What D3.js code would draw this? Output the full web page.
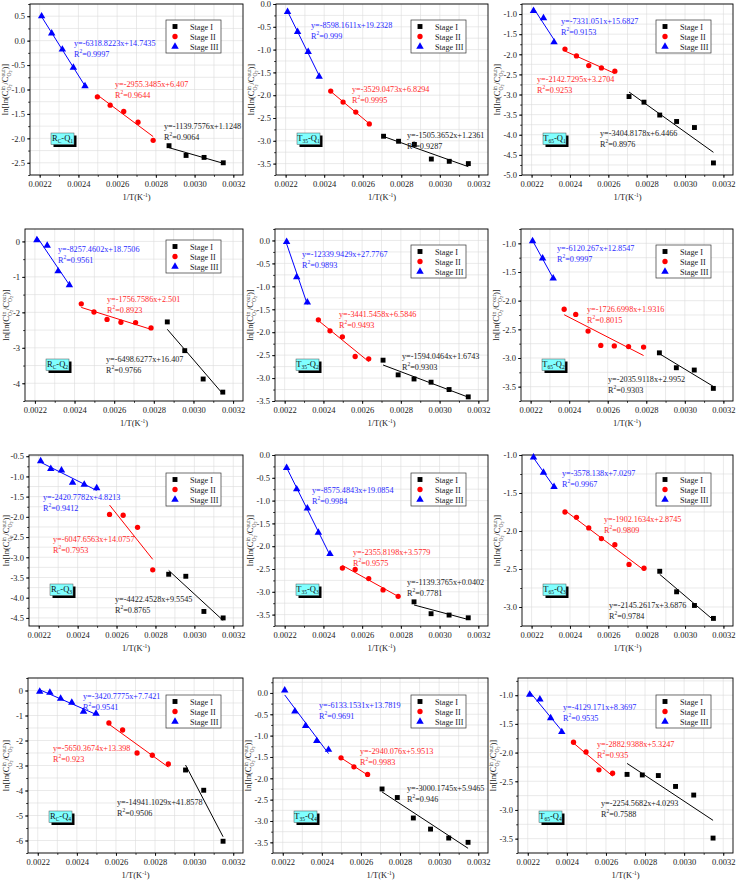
<!DOCTYPE html>
<html>
<head>
<meta charset="utf-8">
<script src="https://cdn.jsdelivr.net/npm/d3@7"></script>
<style>
body { margin: 0; background: #fff; }
text { font-family: "Liberation Serif", "Times New Roman", serif; }
</style>
</head>
<body>
<svg id="chart" width="738" height="881"></svg>
<script>
// 1/T (K^-1) as placed on the x axis of the picture
var invT = [0.002210, 0.002262, 0.002317, 0.002374, 0.002434, 0.002498, 0.002564,
    0.002634, 0.002708, 0.002786, 0.002868, 0.002956, 0.003049, 0.003148];

// ln[ln(Cin/Cout)] in invT order, split = number of points in stage I, II, III
// fit = [slope, intercept, R2] for stage I, II, III
var rcQ1 = [0.50, 0.15, -0.18, -0.55, -0.93, -1.15, -1.32, -1.45, -1.67, -2.04, -2.15, -2.35, -2.39, -2.50];
var rcQ1Split = [4, 5, 5];
var rcQ1Fit = [[-1139.7576, 1.1248, 0.9064], [-2955.3485, 6.407, 0.9644], [-6318.8223, 14.7435, 0.9997]];

var t35Q1 = [-0.17, -0.61, -1.05, -1.59, -1.91, -2.15, -2.37, -2.63, -2.90, -3.01, -3.08, -3.40, -3.45, -3.50];
var t35Q1Split = [6, 4, 4];
var t35Q1Fit = [[-1505.3652, 1.2361, 0.9287], [-3529.0473, 6.8294, 0.9995], [-8598.1611, 19.2328, 0.999]];

var t65Q1 = [-0.92, -1.10, -1.70, -1.87, -2.04, -2.28, -2.34, -2.42, -3.05, -3.19, -3.51, -3.67, -3.82, -4.70];
var t65Q1Split = [6, 5, 3];
var t65Q1Fit = [[-3404.8178, 6.4466, 0.8976], [-2142.7295, 3.2704, 0.9253], [-7331.051, 15.6827, 0.9153]];

var rcQ2 = [0.04, -0.12, -0.84, -1.23, -1.76, -1.99, -2.20, -2.28, -2.29, -2.44, -2.27, -3.08, -3.88, -4.25];
var rcQ2Split = [4, 6, 4];
var rcQ2Fit = [[-6498.6277, 16.407, 0.9766], [-1756.7586, 2.501, 0.8923], [-8257.4602, 18.7506, 0.9561]];

var t35Q2 = [-0.03, -0.80, -1.35, -1.73, -1.97, -2.10, -2.53, -2.58, -2.61, -2.93, -3.02, -3.09, -3.25, -3.41];
var t35Q2Split = [6, 5, 3];
var t35Q2Fit = [[-1594.0464, 1.6743, 0.9303], [-3441.5458, 6.5846, 0.9493], [-12339.9429, 27.7767, 0.9893]];

var t65Q2 = [-0.96, -1.26, -1.61, -2.15, -2.24, -2.53, -2.78, -2.79, -2.80, -2.81, -2.91, -3.17, -3.21, -3.53];
var t65Q2Split = [4, 7, 3];
var t65Q2Fit = [[-2035.9118, 2.9952, 0.9303], [-1726.6998, 1.9316, 0.8015], [-6120.267, 12.8547, 0.9997]];

var rcQ3 = [-0.62, -0.81, -0.85, -1.15, -1.20, -1.29, -1.94, -1.96, -2.26, -3.31, -3.42, -3.47, -4.34, -4.50];
var rcQ3Split = [4, 4, 6];
var rcQ3Fit = [[-4422.4528, 9.5545, 0.8765], [-6047.6563, 14.0757, 0.7953], [-2420.7782, 4.8213, 0.9412]];

var t35Q3 = [-0.28, -0.75, -1.17, -1.70, -2.17, -2.48, -2.51, -2.71, -2.96, -3.10, -3.22, -3.48, -3.51, -3.57];
var t35Q3Split = [4, 5, 5];
var t35Q3Fit = [[-1139.3765, 0.0402, 0.7781], [-2355.8198, 3.5779, 0.9575], [-8575.4843, 19.0854, 0.9984]];

var t65Q3 = [-1.03, -1.23, -1.42, -1.75, -1.82, -1.96, -2.10, -2.18, -2.44, -2.49, -2.53, -2.80, -2.98, -3.15];
var t65Q3Split = [4, 7, 3];
var t65Q3Fit = [[-2145.2617, 3.6876, 0.9784], [-1902.1634, 2.8745, 0.9809], [-3578.138, 7.0297, 0.9967]];

var rcQ4 = [-0.04, -0.08, -0.32, -0.48, -0.84, -0.92, -1.30, -1.58, -2.50, -2.59, -2.94, -3.18, -3.99, -6.03];
var rcQ4Split = [3, 5, 6];
var rcQ4Fit = [[-14941.1029, 41.8578, 0.9506], [-5650.3674, 13.398, 0.923], [-3420.7775, 7.7421, 0.9541]];

var t35Q4 = [0.06, -0.43, -0.77, -1.12, -1.33, -1.52, -1.73, -1.91, -2.25, -2.45, -2.93, -3.19, -3.40, -3.50];
var t35Q4Split = [6, 3, 5];
var t35Q4Fit = [[-3000.1745, 5.9465, 0.946], [-2940.076, 5.9513, 0.9983], [-6133.1531, 13.7819, 0.9691]];

var t65Q4 = [-0.99, -1.07, -1.40, -1.64, -1.82, -1.99, -2.30, -2.36, -2.38, -2.39, -2.40, -2.59, -2.74, -3.49];
var t65Q4Split = [6, 4, 4];
var t65Q4Fit = [[-2254.5682, 4.0293, 0.7588], [-2882.9388, 5.3247, 0.935], [-4129.171, 8.3697, 0.9535]];

var stageNames = ["Stage I", "Stage II", "Stage III"];
var stageColors = ["#000000", "#ff0000", "#0000ff"];
var eqColors = ["#222222", "#ff2a2a", "#2a2aff"];
var xTicks = [0.0022, 0.0024, 0.0026, 0.0028, 0.0030, 0.0032];

// panel layout (pixels), eq = [x, y] of the equation per stage I, II, III
var panels = [
    {lab: ["R", "C", "-Q", "1"], y: rcQ1, split: rcQ1Split, fit: rcQ1Fit, l: 30, r: 243, t: 4, b: 175,
        dom: [-2.75, 0.75], step: 0.5, dec: 1, eq: [[164, 126], [115, 84], [74, 43]], lg: 16},
    {lab: ["T", "35", "-Q", "1"], y: t35Q1, split: t35Q1Split, fit: t35Q1Fit, l: 276, r: 488, t: 4, b: 175,
        dom: [-3.75, 0], step: 0.5, dec: 1, eq: [[407, 135], [352, 89], [311, 25]], lg: 16},
    {lab: ["T", "65", "-Q", "1"], y: t65Q1, split: t65Q1Split, fit: t65Q1Fit, l: 522, r: 733, t: 4, b: 175,
        dom: [-5, -0.75], step: 0.5, dec: 1, eq: [[600, 133], [537, 79], [561, 21]], lg: 16},
    {lab: ["R", "C", "-Q", "2"], y: rcQ2, split: rcQ2Split, fit: rcQ2Fit, l: 25, r: 243, t: 229, b: 401,
        dom: [-4.5, 0.35], step: 1, dec: 0, eq: [[106, 359], [107, 299], [58, 249]], lg: 11},
    {lab: ["T", "35", "-Q", "2"], y: t35Q2, split: t35Q2Split, fit: t35Q2Fit, l: 275, r: 488, t: 229, b: 401,
        dom: [-3.5, 0.25], step: 0.5, dec: 1, eq: [[402, 356], [339, 314], [302, 254]], lg: 16},
    {lab: ["T", "65", "-Q", "2"], y: t65Q2, split: t65Q2Split, fit: t65Q2Fit, l: 521, r: 733, t: 229, b: 401,
        dom: [-3.75, -0.75], step: 0.5, dec: 1, eq: [[608, 379], [587, 309], [557, 248]], lg: 16},
    {lab: ["R", "C", "-Q", "3"], y: rcQ3, split: rcQ3Split, fit: rcQ3Fit, l: 29, r: 243, t: 455, b: 626,
        dom: [-4.7, -0.47], step: 0.5, dec: 1, eq: [[115, 599], [53, 539], [43, 497]], lg: 18},
    {lab: ["T", "35", "-Q", "3"], y: t35Q3, split: t35Q3Split, fit: t35Q3Fit, l: 275, r: 488, t: 455, b: 626,
        dom: [-3.75, 0], step: 0.5, dec: 1, eq: [[407, 582], [353, 552], [312, 490]], lg: 18},
    {lab: ["T", "65", "-Q", "3"], y: t65Q3, split: t65Q3Split, fit: t65Q3Fit, l: 522, r: 733, t: 455, b: 626,
        dom: [-3.25, -1], step: 0.5, dec: 1, eq: [[609, 605], [604, 519], [562, 473]], lg: 18},
    {lab: ["R", "C", "-Q", "4"], y: rcQ4, split: rcQ4Split, fit: rcQ4Fit, l: 28, r: 243, t: 678, b: 853,
        dom: [-6.5, 0.5], step: 1, dec: 0, eq: [[117, 802], [53, 748], [83, 696]], lg: 17},
    {lab: ["T", "35", "-Q", "4"], y: t35Q4, split: t35Q4Split, fit: t35Q4Fit, l: 273, r: 488, t: 678, b: 853,
        dom: [-3.75, 0.35], step: 0.5, dec: 1, eq: [[407, 788], [360, 751], [319, 705]], lg: 17},
    {lab: ["T", "65", "-Q", "4"], y: t65Q4, split: t65Q4Split, fit: t65Q4Fit, l: 518, r: 733, t: 678, b: 853,
        dom: [-3.75, -0.7], step: 0.5, dec: 1, eq: [[601, 803], [597, 744], [563, 707]], lg: 17}
];

var svg = d3.select("#chart");
svg.append("rect").attr("width", 738).attr("height", 881).attr("fill", "#fff");

panels.forEach(drawPanel);

function stepTicks(dom, step) {
    var k0 = Math.ceil(dom[0] / step - 1e-9), k1 = Math.floor(dom[1] / step + 1e-9);
    return d3.range(k0, k1 + 1).map(function (k) { return +(k * step).toFixed(6); });
}

function symbolFor(i) {
    var types = [d3.symbolSquare, d3.symbolCircle, d3.symbolTriangle];
    var sizes = [24, 22, 24];
    return d3.symbol().type(types[i]).size(sizes[i]);
}

function drawPanel(p) {
    var x = d3.scaleLinear().domain([0.00215, 0.00325]).range([p.l, p.r]);
    var y = d3.scaleLinear().domain(p.dom).range([p.b, p.t]);
    var g = svg.append("g");

    var xMinor = stepTicks([0.00215, 0.00325], 0.0001);
    var yMajor = stepTicks(p.dom, p.step);
    var yMinor = stepTicks(p.dom, p.step / 2);

    // grid
    g.append("g").selectAll("line").data(xMinor).join("line")
        .attr("x1", function (d) { return x(d); }).attr("x2", function (d) { return x(d); })
        .attr("y1", p.t).attr("y2", p.b)
        .attr("stroke", "#dcdcdc").attr("stroke-width", 0.6);
    g.append("g").selectAll("line").data(yMinor).join("line")
        .attr("y1", function (d) { return y(d); }).attr("y2", function (d) { return y(d); })
        .attr("x1", p.l).attr("x2", p.r)
        .attr("stroke", "#dcdcdc").attr("stroke-width", 0.6);

    // axes
    var xAxis = d3.axisBottom(x).tickValues(xTicks).tickFormat(function (d) { return d.toFixed(4); })
        .tickSize(3).tickSizeOuter(0).tickPadding(3);
    var xg = g.append("g").attr("transform", "translate(0," + p.b + ")").call(xAxis);
    var xm = g.append("g").attr("transform", "translate(0," + p.b + ")")
        .call(d3.axisBottom(x).tickValues(xMinor).tickFormat("").tickSize(1.8).tickSizeOuter(0));
    var yAxis = d3.axisLeft(y).tickValues(yMajor).tickFormat(function (d) { return d.toFixed(p.dec); })
        .tickSize(3).tickSizeOuter(0).tickPadding(2);
    var yg = g.append("g").attr("transform", "translate(" + p.l + ",0)").call(yAxis);
    var ym = g.append("g").attr("transform", "translate(" + p.l + ",0)")
        .call(d3.axisLeft(y).tickValues(yMinor).tickFormat("").tickSize(1.8).tickSizeOuter(0));
    [xg, xm, yg, ym].forEach(function (a) {
        a.attr("font-family", "Liberation Serif").attr("font-size", 8.5);
        a.select(".domain").remove();
        a.selectAll("line").attr("stroke", "#000").attr("stroke-width", 0.8);
        a.selectAll("text").attr("fill", "#222");
    });

    g.append("rect").attr("x", p.l).attr("y", p.t).attr("width", p.r - p.l).attr("height", p.b - p.t)
        .attr("fill", "none").attr("stroke", "#000").attr("stroke-width", 0.9);

    // x label
    var xl = g.append("text").attr("x", (p.l + p.r) / 2).attr("y", p.b + 25)
        .attr("text-anchor", "middle").attr("font-size", 8.5).attr("fill", "#222");
    xl.append("tspan").text("1/T(K");
    xl.append("tspan").attr("font-size", 5.5).attr("dy", -3.5).text("-1");
    xl.append("tspan").attr("dy", 3.5).text(")");

    // y label
    yLabel(g, p.l - 24 < 6 ? 6 : p.l - 25, (p.t + p.b) / 2);

    // stages
    var start = 0;
    var groups = [];
    [2, 1, 0].forEach(function (s) {
        groups[s] = d3.range(start, start + p.split[s]).map(function (i) {
            return {x: invT[i], y: p.y[i]};
        });
        start += p.split[s];
    });

    [0, 1, 2].forEach(function (s) {
        var pts = groups[s];
        var f = p.fit[s];
        var xe = d3.extent(pts, function (d) { return d.x; });
        // fitted line with the published slope, through the centroid of the points
        var xm = d3.mean(pts, function (d) { return d.x; });
        var ymn = d3.mean(pts, function (d) { return d.y; });
        g.append("line")
            .attr("x1", x(xe[0])).attr("y1", y(ymn + f[0] * (xe[0] - xm)))
            .attr("x2", x(xe[1])).attr("y2", y(ymn + f[0] * (xe[1] - xm)))
            .attr("stroke", stageColors[s]).attr("stroke-width", 1);
        g.append("g").selectAll("path").data(pts).join("path")
            .attr("d", symbolFor(s)())
            .attr("transform", function (d) { return "translate(" + x(d.x) + "," + y(d.y) + ")"; })
            .attr("fill", stageColors[s]);

        // equation text
        var pos = p.eq[s];
        g.append("text").attr("x", pos[0]).attr("y", pos[1] + 3)
            .attr("font-size", 8.2).attr("fill", eqColors[s])
            .text("y=" + f[0] + "x+" + f[1]);
        var r2 = g.append("text").attr("x", pos[0]).attr("y", pos[1] + 13.5)
            .attr("font-size", 8.2).attr("fill", eqColors[s]);
        r2.append("tspan").text("R");
        r2.append("tspan").attr("font-size", 5.5).attr("dy", -3.5).text("2");
        r2.append("tspan").attr("dy", 3.5).text("=" + f[2]);
    });

    // legend
    var lx = p.r - 77, ly = p.t + p.lg;
    var lg = g.append("g").attr("transform", "translate(" + lx + "," + ly + ")");
    lg.append("rect").attr("width", 55).attr("height", 33)
        .attr("fill", "#fff").attr("stroke", "#333").attr("stroke-width", 0.7);
    stageNames.forEach(function (n, s) {
        lg.append("path").attr("d", symbolFor(s)())
            .attr("transform", "translate(9," + (6.5 + s * 10) + ")").attr("fill", stageColors[s]);
        lg.append("text").attr("x", 24).attr("y", 6.5 + s * 10 + 3)
            .attr("font-size", 8.2).attr("fill", "#222").text(n);
    });

    // panel name box
    var bx = p.l + 21, by = p.b - 42;
    g.append("rect").attr("x", bx + 2.5).attr("y", by + 2.5).attr("width", 23).attr("height", 11.5)
        .attr("fill", "#000");
    g.append("rect").attr("x", bx).attr("y", by).attr("width", 23).attr("height", 11.5)
        .attr("fill", "#80ffff").attr("stroke", "#555").attr("stroke-width", 0.5);
    var nt = g.append("text").attr("x", bx + 11.5).attr("y", by + 8.3)
        .attr("text-anchor", "middle").attr("font-size", 8.5).attr("fill", "#111");
    nt.append("tspan").text(p.lab[0]);
    nt.append("tspan").attr("font-size", 5.5).attr("dy", 2).text(p.lab[1]);
    nt.append("tspan").attr("dy", -2).text(p.lab[2]);
    nt.append("tspan").attr("font-size", 5.5).attr("dy", 2).text(p.lab[3]);
}

function yLabel(g, cx, cy) {
    var outer = g.append("g").attr("transform", "translate(" + cx + "," + cy + ") rotate(-90)");
    var inner = outer.append("g").attr("fill", "#222");
    var pos = 0;
    function put(s, size, dy, at) {
        var t = inner.append("text").attr("x", at).attr("y", dy).attr("font-size", size).text(s);
        return t.node().getComputedTextLength();
    }
    function oxygen(at, dy) {
        var w = put("O", 5.5, dy, at);
        return w + put("2", 4, dy + 1.5, at + w);
    }
    pos += put("ln[ln(C", 8.5, 0, pos);
    var a = put("in", 5.5, -3.5, pos), b = oxygen(pos, 2.8);
    pos += Math.max(a, b);
    pos += put("/C", 8.5, 0, pos);
    a = put("out", 5.5, -3.5, pos); b = oxygen(pos, 2.8);
    pos += Math.max(a, b);
    pos += put(")]", 8.5, 0, pos);
    inner.attr("transform", "translate(" + (-pos / 2) + ",3)");
}
</script>
</body>
</html>
